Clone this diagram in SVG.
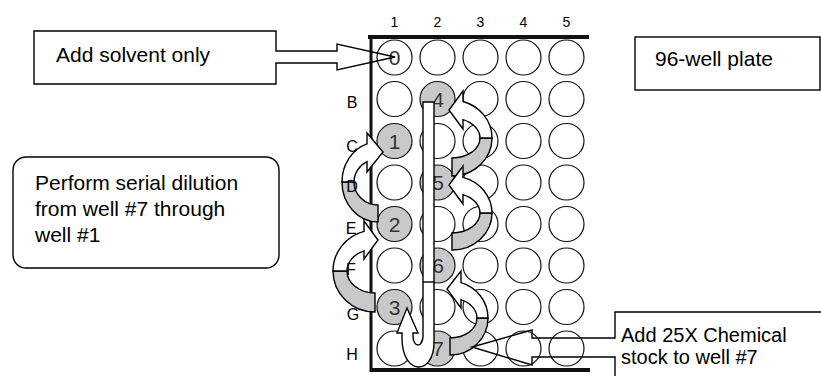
<svg xmlns="http://www.w3.org/2000/svg" width="821" height="376" viewBox="0 0 821 376">
<style>
.lbl{font-family:"Liberation Sans",Arial,sans-serif;font-size:21px;fill:#000}
.lbl2{font-family:"Liberation Sans",Arial,sans-serif;font-size:20px;fill:#000}
.col{font-family:"Liberation Sans",Arial,sans-serif;font-size:14px;fill:#000;text-anchor:middle}
.row{font-family:"Liberation Sans",Arial,sans-serif;font-size:16px;fill:#000;text-anchor:middle}
.num{font-family:"Liberation Sans",Arial,sans-serif;font-size:21px;fill:#333;text-anchor:middle}
.well{fill:#fff;stroke:#111;stroke-width:1.2}
.filled{fill:#c8c8c8}
.border{stroke:#111;fill:none}
.box{fill:none;stroke:#000;stroke-width:1.4}
.tail{fill:#c8c8c8;stroke:#000;stroke-width:1.4;stroke-linejoin:miter}
.head{fill:#fff;stroke:#000;stroke-width:1.4;stroke-linejoin:miter}
</style>
<rect width="821" height="376" fill="#fff"/>

<g id="plate">
  <g id="col-labels">
    <text class="col" x="394.5" y="27">1</text>
    <text class="col" x="437.5" y="27">2</text>
    <text class="col" x="480.5" y="27">3</text>
    <text class="col" x="523.5" y="27">4</text>
    <text class="col" x="566.5" y="27">5</text>
  </g>
  <g id="wells">
    <circle class="well" cx="394.5" cy="57.5" r="17.5"/><circle class="well" cx="437.5" cy="57.5" r="17.5"/><circle class="well" cx="480.5" cy="57.5" r="17.5"/><circle class="well" cx="523.5" cy="57.5" r="17.5"/><circle class="well" cx="566.5" cy="57.5" r="17.5"/>
    <circle class="well" cx="394.5" cy="99" r="17.5"/><circle class="well filled" cx="437.5" cy="99" r="17.5"/><circle class="well" cx="480.5" cy="99" r="17.5"/><circle class="well" cx="523.5" cy="99" r="17.5"/><circle class="well" cx="566.5" cy="99" r="17.5"/>
    <circle class="well filled" cx="394.5" cy="141" r="17.5"/><circle class="well" cx="437.5" cy="141" r="17.5"/><circle class="well" cx="480.5" cy="141" r="17.5"/><circle class="well" cx="523.5" cy="141" r="17.5"/><circle class="well" cx="566.5" cy="141" r="17.5"/>
    <circle class="well" cx="394.5" cy="182.5" r="17.5"/><circle class="well filled" cx="437.5" cy="182.5" r="17.5"/><circle class="well" cx="480.5" cy="182.5" r="17.5"/><circle class="well" cx="523.5" cy="182.5" r="17.5"/><circle class="well" cx="566.5" cy="182.5" r="17.5"/>
    <circle class="well filled" cx="394.5" cy="224" r="17.5"/><circle class="well" cx="437.5" cy="224" r="17.5"/><circle class="well" cx="480.5" cy="224" r="17.5"/><circle class="well" cx="523.5" cy="224" r="17.5"/><circle class="well" cx="566.5" cy="224" r="17.5"/>
    <circle class="well" cx="394.5" cy="265.5" r="17.5"/><circle class="well filled" cx="437.5" cy="265.5" r="17.5"/><circle class="well" cx="480.5" cy="265.5" r="17.5"/><circle class="well" cx="523.5" cy="265.5" r="17.5"/><circle class="well" cx="566.5" cy="265.5" r="17.5"/>
    <circle class="well filled" cx="394.5" cy="307" r="17.5"/><circle class="well" cx="437.5" cy="307" r="17.5"/><circle class="well" cx="480.5" cy="307" r="17.5"/><circle class="well" cx="523.5" cy="307" r="17.5"/><circle class="well" cx="566.5" cy="307" r="17.5"/>
    <circle class="well" cx="394.5" cy="348.5" r="17.5"/><circle class="well filled" cx="437.5" cy="348.5" r="17.5"/><circle class="well" cx="480.5" cy="348.5" r="17.5"/><circle class="well" cx="523.5" cy="348.5" r="17.5"/><circle class="well" cx="566.5" cy="348.5" r="17.5"/>
  </g>
  <g id="well-numbers">
    <text class="num" x="394.5" y="65">0</text>
    <text class="num" x="438" y="106.5">4</text>
    <text class="num" x="394.5" y="148.5">1</text>
    <text class="num" x="438" y="190">5</text>
    <text class="num" x="394.5" y="231.5">2</text>
    <text class="num" x="438" y="273">6</text>
    <text class="num" x="394.5" y="314.5">3</text>
    <text class="num" x="438" y="356">7</text>
  </g>
  <g id="plate-border">
    <line class="border" x1="371" y1="36" x2="371" y2="372" stroke-width="3"/>
    <line class="border" x1="368" y1="37" x2="589" y2="37" stroke-width="4"/>
    <line class="border" x1="370" y1="370" x2="590" y2="370" stroke-width="4"/>
  </g>
</g>

<g id="connectors">
  <g id="arrow-5-to-4">
    <path class="tail" d="M452,176 A40,38 0 0 0 492,138 L480,138 A28,20 0 0 1 452,158 Z"/>
    <path class="head" d="M492,138 A40,38 0 0 0 463,101.5 L463,91 L449,110 L463,129 L463,119.6 A28,20 0 0 1 480,138 Z"/>
  </g>
  <g id="arrow-6-to-5">
    <path class="tail" d="M452,250 A40,37 0 0 0 492,213 L480,213 A28,20 0 0 1 452,233 Z"/>
    <path class="head" d="M492,213 A40,37 0 0 0 463,177.4 L463,166 L449,185 L463,204 L463,194.6 A28,20 0 0 1 480,213 Z"/>
  </g>
  <g id="arrow-7-to-6">
    <path class="tail" d="M450,355 A38,37 0 0 0 488,318 L477,318 A27,20 0 0 1 450,338 Z"/>
    <path class="head" d="M488,318 A38,37 0 0 0 461,282.6 L461,271 L447,289 L461,308 L461,299.7 A27,20 0 0 1 477,318 Z"/>
  </g>
  <g id="arrow-2-to-1">
    <path class="tail" d="M378,222 A36,40 0 0 1 342,182 L354,182 A24,23 0 0 0 378,205 Z"/>
    <path class="head" d="M342,182 A36,40 0 0 1 367,143.9 L367,133 L383,152 L367,172 L367,161.6 A24,23 0 0 0 354,182 Z"/>
  </g>
  <g id="arrow-3-to-2">
    <path class="tail" d="M375,312 A42,41 0 0 1 333,271 L347,271 A28,22 0 0 0 375,293 Z"/>
    <path class="head" d="M333,271 A42,41 0 0 1 364,231.4 L364,221 L378,240 L364,259 L364,250.8 A28,22 0 0 0 347,271 Z"/>
  </g>
  <g id="transfer-j-arrow">
    <path class="head" d="M423,102 L434,102 L434,342 C434,376 402,376 402,338 L402,333 L397,333 L407,308 L418,333 L413,333 L413,336 C413,348 423,348 423,336 Z"/>
    <line x1="423" y1="282" x2="434" y2="282" stroke="#000" stroke-width="1.4"/>
  </g>
</g>

<g id="row-labels">
  <text class="row" x="352" y="108">B</text>
  <text class="row" x="352" y="152">C</text>
  <text class="row" x="352" y="192">D</text>
  <text class="row" x="351" y="234">E</text>
  <text class="row" x="351" y="275">F</text>
  <text class="row" x="353" y="320">G</text>
  <text class="row" x="352" y="360">H</text>
</g>

<g id="solvent-callout">
  <path class="box" d="M34,31 L276,31 L276,51 L337,51 L337,44 L395,57 L337,70 L337,63 L276,63 L276,84 L34,84 Z"/>
  <text class="lbl" x="56" y="62">Add solvent only</text>
</g>

<g id="plate-label">
  <rect class="box" x="635" y="37" width="185" height="53"/>
  <text class="lbl" x="655" y="66">96-well plate</text>
</g>

<g id="dilution-note">
  <rect class="box" x="13" y="157" width="266" height="111" rx="13" ry="13"/>
  <text class="lbl" x="35" y="190">Perform serial dilution</text>
  <text class="lbl" x="35" y="216">from well #7 through</text>
  <text class="lbl" x="35" y="242">well #1</text>
</g>

<g id="stock-callout">
  <path class="box" d="M825,312 L615,312 L615,338 L532,338 L532,330 L472,347 L532,365 L532,357 L615,357 L615,380"/>
  <text class="lbl2" x="621" y="342">Add 25X Chemical</text>
  <text class="lbl2" x="621" y="364">stock to well #7</text>
</g>
</svg>
